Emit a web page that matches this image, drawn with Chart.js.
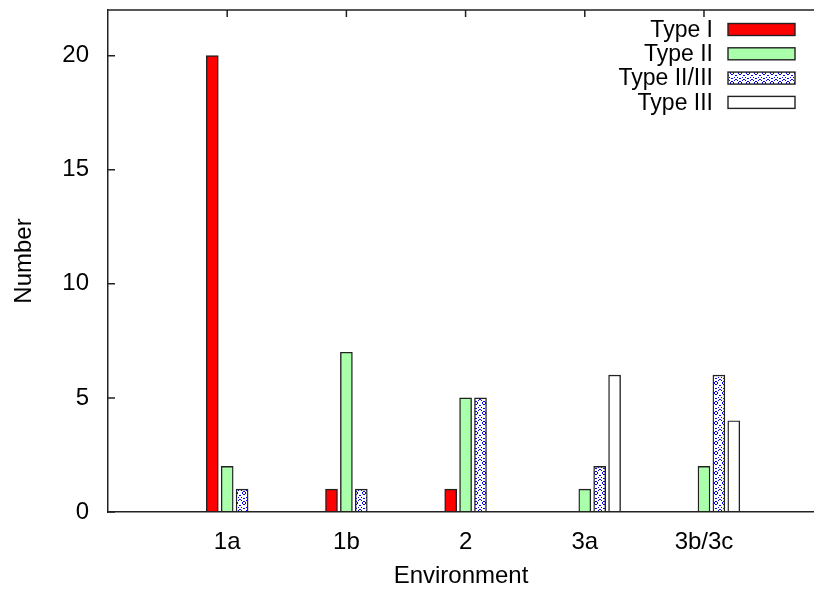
<!DOCTYPE html>
<html>
<head>
<meta charset="utf-8">
<script src="https://cdn.jsdelivr.net/npm/chart.js@4"></script>
<style>
  body { margin: 0; background: #fff; }
  #wrap { width: 814px; height: 591px; }
</style>
</head>
<body>
<div id="wrap"><canvas id="grafico" width="814" height="591"></canvas></div>
<script>
// ===== DATOS =====
const entornos = ['1a', '1b', '2', '3a', '3b/3c'];
const tipoI = [20, 1, 1, 0, 0];
const tipoII = [2, 7, 5, 1, 2];
const tipoIIIII = [1, 1, 5, 2, 6];
const tipoIII = [0, 0, 0, 6, 4];
const ticksY = [0, 5, 10, 15, 20];

const FUENTE = "'Liberation Sans', Arial, sans-serif";

// patron de puntos azules (Type II/III)
function crearPatron() {
  const c = document.createElement('canvas');
  c.width = 8; c.height = 10;
  const g = c.getContext('2d');
  g.fillStyle = '#fff';
  g.fillRect(0, 0, 8, 10);
  g.fillStyle = '#0000ff';
  const pts = [[1, 0], [6, 0], [3, 1], [4, 1], [2, 2], [5, 2], [2, 3], [5, 3], [3, 4], [4, 4],
               [0, 5], [7, 5], [1, 7], [6, 7], [3, 8], [4, 8], [0, 9], [7, 9]];
  pts.forEach(([px, py]) => g.fillRect(px, py, 1, 1));
  return g.createPattern(c, 'repeat');
}

// cada serie desplazada dentro del grupo
function serie(label, valores, desplaz, color) {
  return {
    label,
    data: valores.map((v, i) => ({ x: i + 1 + desplaz, y: v })),
    backgroundColor: color,
    borderColor: '#222',
    borderWidth: 1.4,
    borderSkipped: false,
    barThickness: 12,
    grouped: false
  };
}

const datasets = [
  serie('Type I', tipoI, -0.125, '#ff0000'),
  serie('Type II', tipoII, 0, '#aaffaa'),
  serie('Type II/III', tipoIIIII, 0.125, crearPatron()),
  serie('Type III', tipoIII, 0.25, '#ffffff')
];

// marco, ticks hacia dentro y leyenda
const marco = {
  id: 'marco',
  beforeDatasetsDraw(chart) {
    const { ctx, chartArea: a, scales: { x, y } } = chart;
    ctx.save();
    ctx.strokeStyle = '#222';
    ctx.lineWidth = 1.5;
    ctx.beginPath();
    ctx.moveTo(a.left, a.top);
    ctx.lineTo(a.right, a.top);
    x.ticks.forEach(t => {
      const px = x.getPixelForValue(t.value);
      ctx.moveTo(px, a.top); ctx.lineTo(px, a.top + 7);
      ctx.moveTo(px, a.bottom); ctx.lineTo(px, a.bottom - 7);
    });
    y.ticks.forEach(t => {
      const py = y.getPixelForValue(t.value);
      ctx.moveTo(a.left, py); ctx.lineTo(a.left + 7, py);
    });
    ctx.stroke();
    ctx.restore();
  },
  afterDraw(chart) {
    const ctx = chart.ctx;
    ctx.save();
    ctx.font = '23px ' + FUENTE;
    ctx.textAlign = 'right';
    ctx.textBaseline = 'middle';
    chart.data.datasets.forEach((ds, i) => {
      const yc = 29.5 + i * 24.3;
      ctx.fillStyle = '#000';
      ctx.fillText(ds.label, 713, yc + 1);
      ctx.fillStyle = ds.backgroundColor;
      ctx.fillRect(728, yc - 6, 67, 12);
      ctx.strokeStyle = '#222';
      ctx.lineWidth = 1.4;
      ctx.strokeRect(728, yc - 6, 67, 12);
    });
    ctx.restore();
  }
};

const sinPadding = s => { s.paddingTop = 0; s.paddingBottom = 0; s.paddingLeft = 0; s.paddingRight = 0; };

new Chart(document.getElementById('grafico').getContext('2d'), {
  type: 'bar',
  data: { datasets },
  plugins: [marco],
  options: {
    responsive: false,
    animation: false,
    layout: { padding: { top: 10, right: 0, left: 0, bottom: 0 } },
    plugins: { legend: { display: false }, tooltip: { enabled: false } },
    scales: {
      x: {
        type: 'linear',
        min: 0,
        max: 5.923,
        offset: false,
        grid: { display: false },
        border: { display: true, color: '#222', width: 1.5 },
        afterBuildTicks: s => { s.ticks = entornos.map((_, i) => ({ value: i + 1 })); },
        afterFit: s => { s.height = 79; sinPadding(s); },
        ticks: {
          autoSkip: false,
          maxRotation: 0,
          padding: 8,
          color: '#000',
          font: { family: FUENTE, size: 24 },
          callback: v => entornos[v - 1]
        },
        title: {
          display: true,
          text: 'Environment',
          color: '#000',
          font: { family: FUENTE, size: 24 },
          padding: { top: 0, bottom: 0 }
        }
      },
      y: {
        min: 0,
        max: 22,
        grid: { display: false },
        border: { display: true, color: '#222', width: 1.5 },
        afterBuildTicks: s => { s.ticks = ticksY.map(v => ({ value: v })); },
        afterFit: s => { s.width = 108; sinPadding(s); },
        ticks: {
          padding: 11,
          color: '#000',
          font: { family: FUENTE, size: 24 }
        },
        title: {
          display: true,
          text: 'Number',
          color: '#000',
          font: { family: FUENTE, size: 24 },
          padding: { top: 10, bottom: 0 }
        }
      }
    }
  }
});
</script>
</body>
</html>
